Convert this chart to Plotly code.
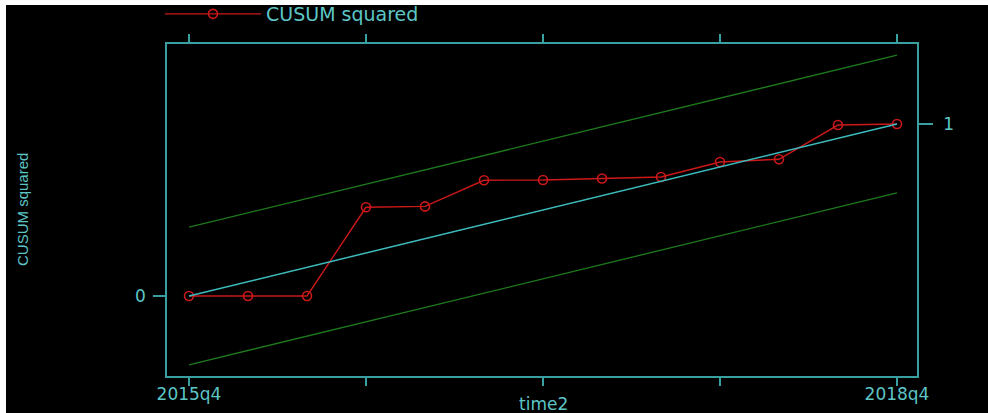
import plotly.graph_objects as go

# ---- data ----
quarters = list(range(13))  # 2015q4 .. 2018q4
cusum_sq = [0.0, 0.0, 0.0, 0.516, 0.521, 0.673, 0.674, 0.683, 0.692, 0.779, 0.795, 0.994, 1.0]
expected_x = [0, 12]
expected_y = [0.0, 1.0]
upper_bound = [0.40, 1.40]
lower_bound = [-0.40, 0.60]
x_tickvals = [0, 3, 6, 9, 12]
x_ticktext = ["2015q4", "", "", "", "2018q4"]

TEAL = "#3a9fa0"
TEXT = "#5cc6c6"
RED = "#cc1818"
GREEN = "#1d7a1d"
CYAN = "#3cbcbf"

W, H = 988, 413
L, R, T, B = 167, 71, 44, 37
pw, ph = W - L - R, H - T - B

def px(x):
    return (x - L) / pw

def py(y):
    return (H - B - y) / ph

fig = go.Figure()
fig.add_trace(go.Scatter(x=expected_x, y=upper_bound, mode="lines",
                         line=dict(color=GREEN, width=1.3), showlegend=False, hoverinfo="skip"))
fig.add_trace(go.Scatter(x=expected_x, y=lower_bound, mode="lines",
                         line=dict(color=GREEN, width=1.3), showlegend=False, hoverinfo="skip"))
fig.add_trace(go.Scatter(x=expected_x, y=expected_y, mode="lines", yaxis="y2",
                         line=dict(color=CYAN, width=1.5), showlegend=False, hoverinfo="skip"))
fig.add_trace(go.Scatter(x=quarters, y=cusum_sq, mode="lines+markers", name="CUSUM squared",
                         line=dict(color=RED, width=1.4),
                         marker=dict(symbol="circle-open", size=9, color=RED, line=dict(width=1.6))))

xr = [-0.3729, 12.339]
yr = [-0.4651, 1.4651]

fig.update_layout(
    width=W, height=H,
    margin=dict(l=L, r=R, t=T, b=B, autoexpand=False),
    paper_bgcolor="white",
    plot_bgcolor="black",
    font=dict(family="DejaVu Sans", color=TEXT, size=16),
    xaxis=dict(range=xr, tickvals=x_tickvals, ticktext=x_ticktext, ticks="outside",
               ticklen=8, tickwidth=1.5, tickcolor=TEAL, showline=True, linecolor=TEAL,
               linewidth=1.5, mirror="ticks", showgrid=False, zeroline=False,
               ticklabelstandoff=-6, tickfont=dict(size=17, color=TEXT)),
    yaxis=dict(range=yr, tickvals=[0], ticktext=["0"], ticks="outside", ticklen=12,
               tickwidth=1.5, tickcolor=TEAL, showline=True, linecolor=TEAL, linewidth=1.5,
               mirror=True, showgrid=False, zeroline=False, ticklabelstandoff=4,
               tickfont=dict(size=17, color=TEXT)),
    yaxis2=dict(range=yr, overlaying="y", side="right", tickvals=[1], ticktext=["1"],
                ticks="outside", ticklen=14, tickwidth=1.5, tickcolor=TEAL, showline=True,
                linecolor=TEAL, linewidth=1.5, showgrid=False, zeroline=False,
                ticklabelstandoff=7, tickfont=dict(size=17, color=TEXT)),
    legend=dict(x=px(160), y=py(-5), xanchor="left", yanchor="top", orientation="h",
                bgcolor="rgba(0,0,0,0)", font=dict(size=19, color=TEXT), itemwidth=96),
    showlegend=True,
    shapes=[dict(type="rect", xref="paper", yref="paper", x0=px(6), x1=px(W + 5),
                 y0=py(H + 5), y1=py(5), fillcolor="black", line=dict(width=0), layer="below")],
    annotations=[
        dict(text="time2", xref="paper", yref="paper", x=px(543), y=py(404),
             xanchor="center", yanchor="middle", showarrow=False,
             font=dict(size=17, color=TEXT)),
        dict(text="CUSUM squared", xref="paper", yref="paper", x=px(22), y=py(210),
             xanchor="center", yanchor="middle", textangle=-90, showarrow=False,
             font=dict(family="Liberation Sans", size=15, color=TEXT)),
    ],
)

fig.write_html("out.html", config={"displayModeBar": False},
               post_script="document.body.style.margin='0';document.body.style.overflow='hidden';")
